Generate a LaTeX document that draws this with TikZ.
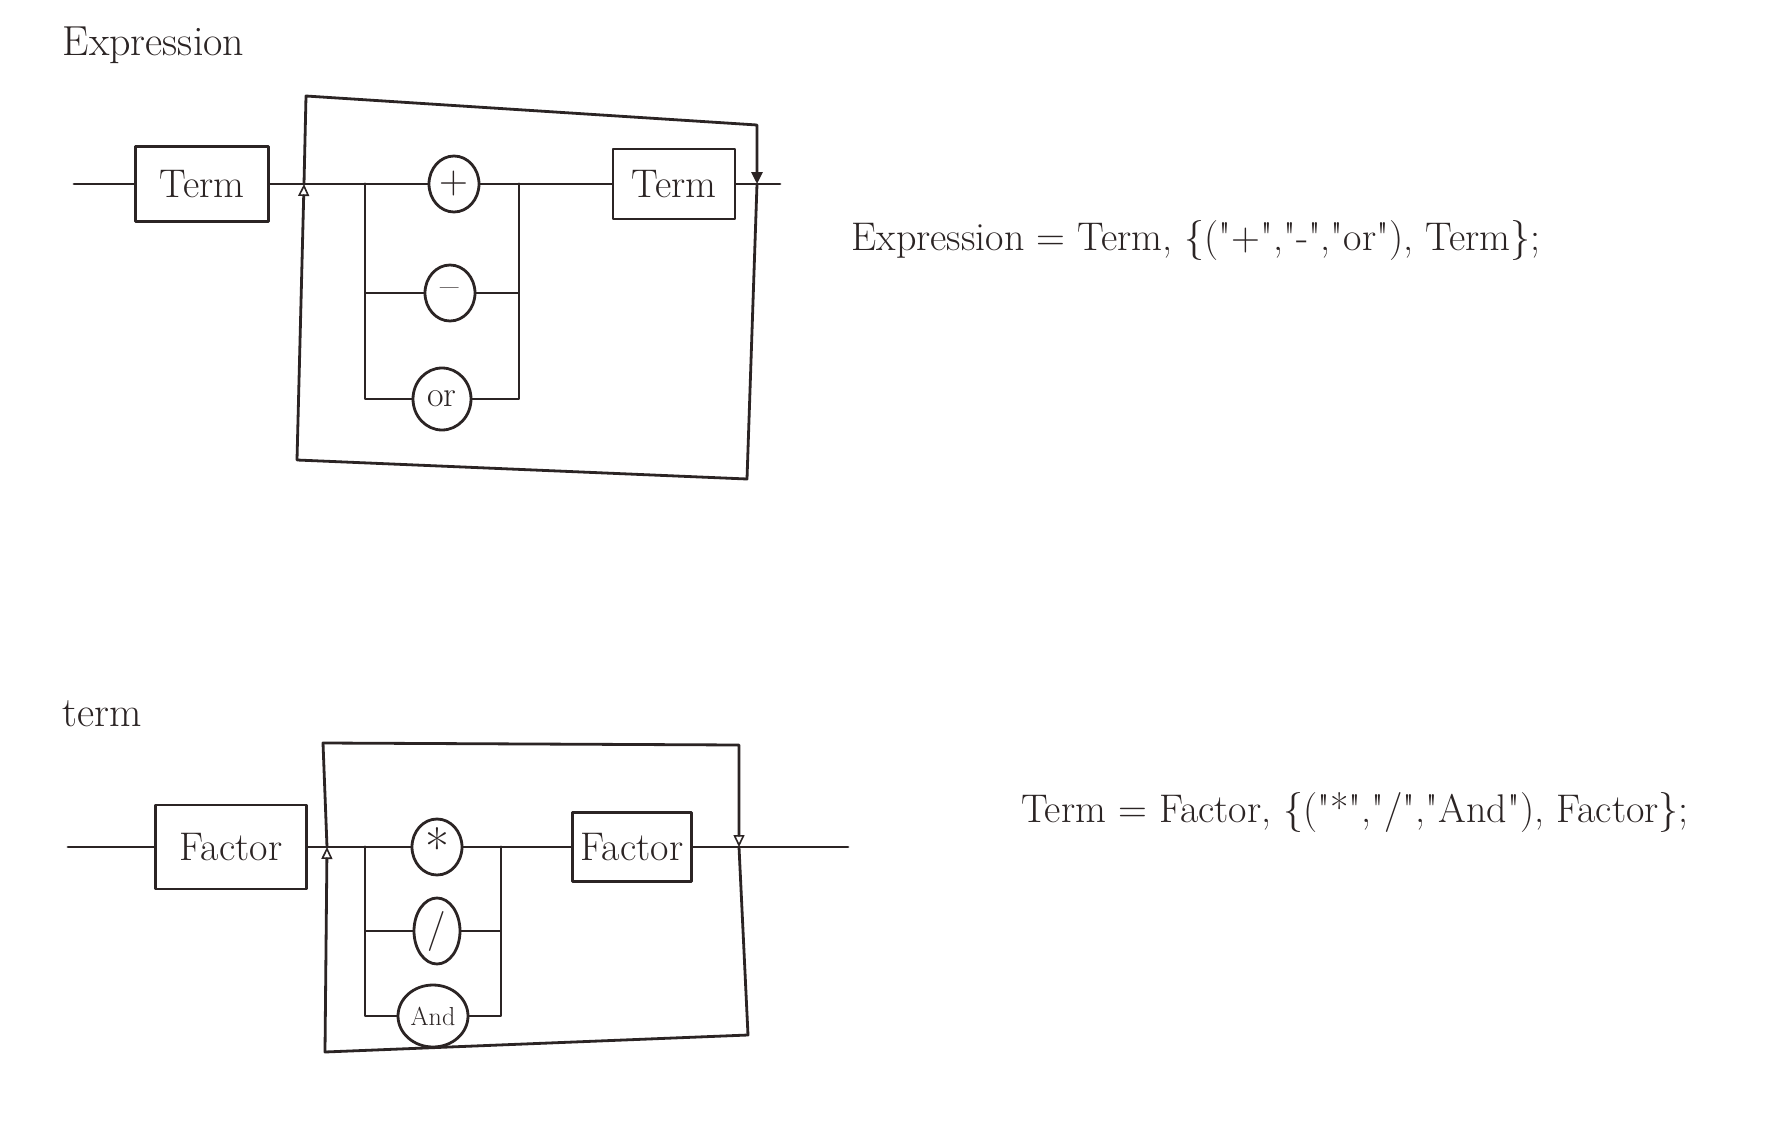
\documentclass[tikz,border=0pt]{standalone}
\usepackage{tikz}
\usetikzlibrary{arrows.meta,positioning,shapes.geometric}
\definecolor{ink}{HTML}{2B2424}
\newcommand{\qt}[1]{\textquotedbl#1\textquotedbl}

\begin{document}
\begin{tikzpicture}[x=1pt,y=-1pt,color=ink,
  line width=2.8pt,line join=round,line cap=round,
  box/.style={draw,minimum height=72pt,inner sep=3pt,font=\fontsize{40}{48}\selectfont},
  op/.style={draw,ellipse,minimum width=50pt,minimum height=56pt,inner sep=0pt,font=\fontsize{40}{44}\selectfont},
  title/.style={anchor=west,font=\fontsize{42}{50}\selectfont},
  rule/.style={font=\fontsize{40}{48}\selectfont},
  back/.style={-{Triangle[open,length=12pt,width=11pt,line width=1.6pt]}},
  backfill/.style={-{Triangle[length=12pt,width=11pt]}}
]
\fill[white] (0,0) rectangle (1778,1124);
\useasboundingbox (0,0) rectangle (1778,1124);

% Expression
\node[title] (exptitle) at (58,45) {Expression};
\coordinate (expin) at (74,184);
\node[box,minimum width=133pt,minimum height=75pt] (term1) at (202,184) {Term};
\coordinate (expjl) at (304,184);
\coordinate (expil) at (365,184);
\node[op] (plus) at (454,184) {+};
\coordinate (expir) at (519,184);
\node[box,minimum width=122pt,minimum height=70pt] (term2) at (674,184) {Term};
\coordinate (expjr) at (757,184);
\coordinate (expout) at (780,184);
\node[op] (minus) at (450,293) {\textendash};
\node[op,minimum width=58pt,minimum height=62pt,font=\fontsize{36}{40}\selectfont] (orop) at (442,399) {or};
\coordinate (exptl) at (306,96);
\coordinate (exptr) at (757,125);
\coordinate (expbr) at (747,479);
\coordinate (expbl) at (297,460);
\draw (expin) -- (term1);
\draw (term1) -- (expjl) -- (plus);
\draw (plus) -- (expir) -- (term2) -- (expout);
\draw (expil) |- (orop);
\draw (minus) -| (expil);
\draw (expir) |- (orop);
\draw (minus) -| (expir);
\draw[backfill] (expjl) -- (exptl) -- (exptr) -- (expjr);
\draw[back] (expjr) -- (expbr) -- (expbl) -- (expjl);
\node[rule] (expeq) at (1196,240) {Expression = Term, \{(\qt{+},\qt{-},\qt{or}), Term\};};

% Term
\node[title] (termtitle) at (58,714) {term};
\coordinate (termin) at (68,847);
\node[box,minimum width=151pt,minimum height=84pt] (fac1) at (231,847) {Factor};
\coordinate (termjl) at (327,847);
\coordinate (termil) at (365,847);
\node[op,font=\fontsize{52}{56}\selectfont] (mul) at (437,847) {\raisebox{-.38em}{*}};
\coordinate (termir) at (501,847);
\node[box,minimum width=119pt,minimum height=69pt] (fac2) at (632,847) {Factor};
\coordinate (termjr) at (739,847);
\coordinate (termout) at (848,847);
\node[op,minimum width=46pt,minimum height=66pt] (divop) at (437,931) {/};
\node[op,minimum width=70pt,minimum height=62pt,font=\fontsize{26}{30}\selectfont] (andop) at (433,1016) {And};
\coordinate (termtl) at (323,743);
\coordinate (termtr) at (739,745);
\coordinate (termbr) at (748,1035);
\coordinate (termbl) at (325,1052);
\draw (termin) -- (fac1);
\draw (fac1) -- (termjl) -- (mul);
\draw (mul) -- (termir) -- (fac2) -- (termout);
\draw (termil) |- (andop);
\draw (divop) -| (termil);
\draw (termir) |- (andop);
\draw (divop) -| (termir);
\draw[back] (termjl) -- (termtl) -- (termtr) -- (termjr);
\draw[back] (termjr) -- (termbr) -- (termbl) -- (termjl);
\node[rule] (termeq) at (1355,812) {Term = Factor, \{(\qt{*},\qt{/},\qt{And}), Factor\};};
\end{tikzpicture}
\end{document}
